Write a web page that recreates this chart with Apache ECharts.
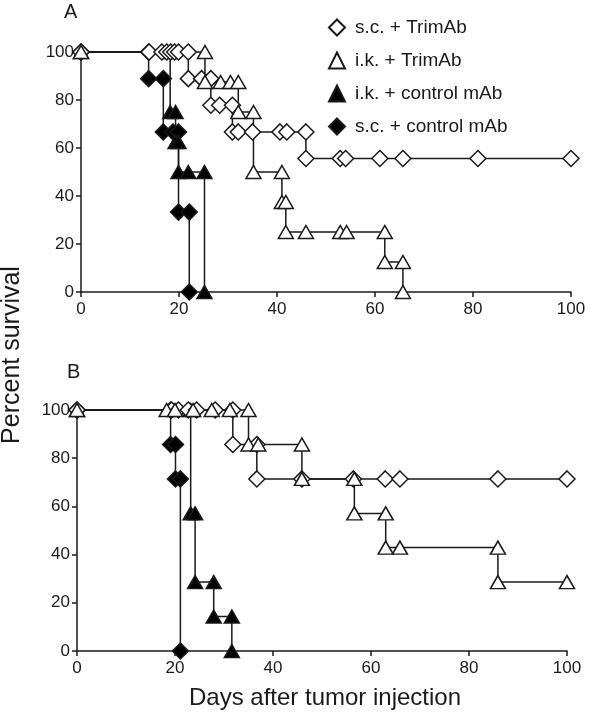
<!DOCTYPE html>
<html>
<head>
<meta charset="utf-8">
<script src="https://cdn.jsdelivr.net/npm/echarts@6/dist/echarts.min.js"></script>
<style>
  html, body { margin: 0; padding: 0; background: #fff; }
  #chart { width: 600px; height: 715px; }
</style>
</head>
<body>
<div id="chart"></div>
<script>
// ---- Data ----
const xTicks = [0, 20, 40, 60, 80, 100];
const yTicks = [0, 20, 40, 60, 80, 100];
const seriesNames = ['s.c. + TrimAb', 'i.k. + TrimAb', 'i.k. + control mAb', 's.c. + control mAb'];

// Panel A
const A_scTrim_days = [0, 13.9, 16.5, 17.5, 18.3, 19.1, 19.9, 21.9, 21.9, 24.6, 26.5, 26.5, 28.3, 30.9, 30.9, 32.1, 35.0, 40.6, 42.0, 45.9, 45.9, 52.9, 54.0, 61.0, 65.7, 81.0, 100];
const A_scTrim_pct  = [100, 100, 100, 100, 100, 100, 100, 100, 88.9, 88.9, 88.9, 77.8, 77.8, 77.8, 66.7, 66.7, 66.7, 66.7, 66.7, 66.7, 55.6, 55.6, 55.6, 55.6, 55.6, 55.6, 55.6];
const A_ikTrim_days = [0, 25.3, 25.3, 28.5, 30.5, 32.1, 32.1, 35.2, 35.2, 41.0, 41.0, 41.8, 41.8, 45.9, 52.9, 54.2, 62.0, 62.0, 65.7, 65.7];
const A_ikTrim_pct  = [100, 100, 87.5, 87.5, 87.5, 87.5, 75, 75, 50, 50, 37.5, 37.5, 25, 25, 25, 25, 25, 12.5, 12.5, 0];
const A_ikCtrl_days = [0, 18.2, 18.2, 19.3, 19.3, 19.9, 19.9, 21.9, 25.2, 25.2];
const A_ikCtrl_pct  = [100, 100, 75, 75, 62.5, 62.5, 50, 50, 50, 0];
const A_scCtrl_days = [0, 13.8, 13.8, 16.8, 16.8, 18.8, 19.9, 19.9, 22.1, 22.1];
const A_scCtrl_pct  = [100, 100, 88.9, 88.9, 66.7, 66.7, 66.7, 33.3, 33.3, 0];

// Panel B
const B_scTrim_days = [0, 19.3, 20.7, 22.7, 24.4, 28.2, 31.8, 31.8, 36.7, 36.7, 45.9, 56.4, 62.9, 65.9, 85.9, 100];
const B_scTrim_pct  = [100, 100, 100, 100, 100, 100, 100, 85.7, 85.7, 71.4, 71.4, 71.4, 71.4, 71.4, 71.4, 71.4];
const B_ikTrim_days = [0, 18.3, 20.0, 23.7, 27.5, 31.2, 35.0, 35.0, 37.0, 45.9, 45.9, 56.6, 56.6, 63.0, 63.0, 65.9, 85.9, 85.9, 100];
const B_ikTrim_pct  = [100, 100, 100, 100, 100, 100, 100, 85.7, 85.7, 85.7, 71.4, 71.4, 57.1, 57.1, 42.9, 42.9, 42.9, 28.6, 28.6];
const B_ikCtrl_days = [0, 23.2, 23.2, 24.1, 24.1, 27.9, 27.9, 31.6, 31.6];
const B_ikCtrl_pct  = [100, 100, 57.1, 57.1, 28.6, 28.6, 14.3, 14.3, 0];
const B_scCtrl_days = [0, 19.1, 19.1, 20.1, 20.1, 21.1, 21.1];
const B_scCtrl_pct  = [100, 100, 85.7, 85.7, 71.4, 71.4, 0];

// ---- Build ----
const zip = (xs, ys) => xs.map((x, i) => [x, ys[i]]);
const INK = '#1a1a1a';
const FONT = '"Liberation Sans", Arial, sans-serif';

const styles = {
  's.c. + TrimAb':      { symbol: 'diamond',  size: [16, 16], fill: '#ffffff' },
  'i.k. + TrimAb':      { symbol: 'triangle', size: [15, 13], fill: '#ffffff' },
  'i.k. + control mAb': { symbol: 'triangle', size: [15, 13], fill: '#000000' },
  's.c. + control mAb': { symbol: 'diamond',  size: [16, 16], fill: '#000000' }
};

function km(name, idx, data) {
  const s = styles[name];
  return {
    name: name, type: 'line', xAxisIndex: idx, yAxisIndex: idx,
    data: data, symbol: s.symbol, symbolSize: s.size, showSymbol: true,
    lineStyle: { color: INK, width: 1.5 },
    itemStyle: { color: s.fill, borderColor: INK, borderWidth: 1.5, opacity: 1 },
    emphasis: { disabled: true }, silent: true, clip: false
  };
}

function xAx(idx) {
  return {
    gridIndex: idx, type: 'value', min: xTicks[0], max: xTicks[xTicks.length - 1], interval: 20,
    axisLine: { show: true, onZero: false, lineStyle: { color: INK, width: 1.5 } },
    axisTick: { show: true, inside: false, length: 5, lineStyle: { color: INK, width: 1.5 } },
    axisLabel: { color: INK, fontSize: 17, fontFamily: FONT, margin: 9 },
    splitLine: { show: false }
  };
}
function yAx(idx) {
  return {
    gridIndex: idx, type: 'value', min: yTicks[0], max: yTicks[yTicks.length - 1], interval: 20,
    axisLine: { show: true, onZero: false, lineStyle: { color: INK, width: 1.5 } },
    axisTick: { show: true, inside: false, length: 5, lineStyle: { color: INK, width: 1.5 } },
    axisLabel: { color: INK, fontSize: 17, fontFamily: FONT, margin: 7 },
    splitLine: { show: false }
  };
}

const option = {
  animation: false,
  backgroundColor: '#ffffff',
  textStyle: { fontFamily: FONT },
  grid: [
    { left: 81, top: 52, width: 490, height: 240 },
    { left: 77, top: 410, width: 490, height: 241 }
  ],
  xAxis: [xAx(0), xAx(1)],
  yAxis: [yAx(0), yAx(1)],
  legend: {
    orient: 'vertical', left: 323, top: 13, itemWidth: 16, itemHeight: 16, itemGap: 14,
    textStyle: { color: INK, fontSize: 19, fontFamily: FONT, padding: [0, 0, 0, 5] },
    data: [
      { name: seriesNames[0], icon: 'diamond' },
      { name: seriesNames[1], icon: 'triangle' },
      { name: seriesNames[2], icon: 'triangle' },
      { name: seriesNames[3], icon: 'diamond' }
    ],
    selectedMode: false
  },
  graphic: [
    { type: 'text', left: 64, top: 2, style: { text: 'A', fill: INK, font: '20px ' + FONT } },
    { type: 'text', left: 67, top: 362, style: { text: 'B', fill: INK, font: '20px ' + FONT } },
    { type: 'text', x: 12, y: 355, rotation: Math.PI / 2,
      style: { text: 'Percent survival', fill: INK, font: '25px ' + FONT, textAlign: 'center', textVerticalAlign: 'middle' } },
    { type: 'text', x: 325, y: 698,
      style: { text: 'Days after tumor injection', fill: INK, font: '24px ' + FONT, textAlign: 'center', textVerticalAlign: 'middle' } }
  ],
  series: [
    km(seriesNames[3], 0, zip(A_scCtrl_days, A_scCtrl_pct)),
    km(seriesNames[2], 0, zip(A_ikCtrl_days, A_ikCtrl_pct)),
    km(seriesNames[0], 0, zip(A_scTrim_days, A_scTrim_pct)),
    km(seriesNames[1], 0, zip(A_ikTrim_days, A_ikTrim_pct)),
    km(seriesNames[3], 1, zip(B_scCtrl_days, B_scCtrl_pct)),
    km(seriesNames[2], 1, zip(B_ikCtrl_days, B_ikCtrl_pct)),
    km(seriesNames[0], 1, zip(B_scTrim_days, B_scTrim_pct)),
    km(seriesNames[1], 1, zip(B_ikTrim_days, B_ikTrim_pct))
  ]
};

const chart = echarts.init(document.getElementById('chart'), null, { renderer: 'canvas' });
chart.setOption(option);
</script>
</body>
</html>
